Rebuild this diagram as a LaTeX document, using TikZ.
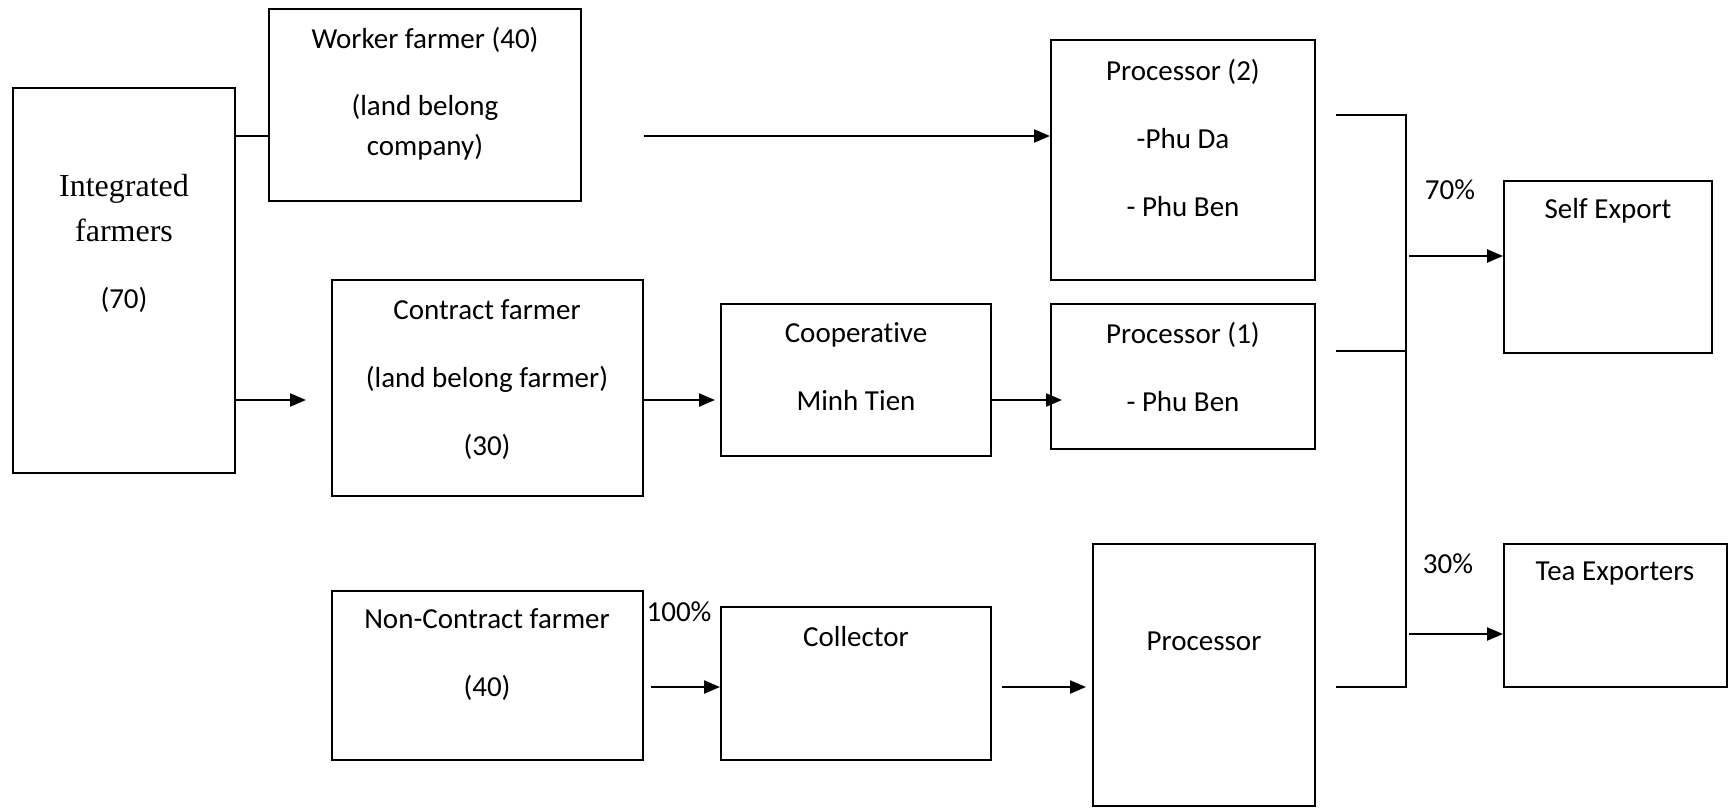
\documentclass[tikz,border=0pt]{standalone}
\usepackage{fontspec}
\setmainfont{Carlito}[RawFeature={-liga;-clig;-calt;-dlig}]
\newfontfamily\timesfont{Liberation Serif}
\usetikzlibrary{positioning,fit,arrows.meta,calc}

\begin{document}
\begin{tikzpicture}[x=0.5pt, y=-0.5pt,
  box/.style={rectangle, draw, line width=1pt, inner sep=0pt},
  txt/.style={align=center, font=\fontsize{14.5}{20}\selectfont, inner sep=0pt},
  wide/.style={align=center, font=\fontsize{14.5}{34}\selectfont, inner sep=0pt},
  arrow/.style={-{Triangle[length=8pt, width=6.5pt]}, line width=1.1pt},
  link/.style={line width=0.8pt},
]
\useasboundingbox (0,0) rectangle (1733,808);

% === Boxes ===
\node[box, fit={(13,88) (235,473)}] (intf) {};
\node[box, fit={(269,9) (581,201)}] (wkr) {};
\node[box, fit={(332,280) (643,496)}] (ctr) {};
\node[box, fit={(332,591) (643,760)}] (ncf) {};
\node[box, fit={(721,304) (991,456)}] (coop) {};
\node[box, fit={(721,607) (991,760)}] (coll) {};
\node[box, fit={(1051,40) (1315,280)}] (proc2) {};
\node[box, fit={(1051,304) (1315,449)}] (proc1) {};
\node[box, fit={(1093,544) (1315,806)}] (proc) {};
\node[box, fit={(1504,181) (1712,353)}] (self) {};
\node[box, fit={(1504,544) (1727,687)}] (tea) {};

% === Texts ===
\node[txt, font=\timesfont\fontsize{16}{22.5}\selectfont] (intftxt) at (124,208) {Integrated\\farmers};
\node[txt] (intfnum) at (124,300) {(70)};
\node[txt] (wkrtxt) at (425,40) {Worker farmer (40)};
\node[txt] (wkrland) at (425,127) {(land belong\\company)};
\node[wide] (ctrtxt) at (487,380) {Contract farmer\\(land belong farmer)\\(30)};
\node[wide] (ncftxt) at (487,655) {Non-Contract farmer\\(40)};
\node[wide] (cooptxt) at (856,367) {Cooperative\\Minh Tien};
\node[txt] (colltxt) at (856,637) {Collector};
\node[wide] (proc2txt) at (1183,138) {Processor (2)\\-Phu Da\\- Phu Ben};
\node[wide] (proc1txt) at (1183,367) {Processor (1)\\- Phu Ben};
\node[txt] (proctxt) at (1204,641) {Processor};
\node[txt] (selftxt) at (1608,211) {Self Export};
\node[txt] (teatxt) at (1615,574) {Tea Exporters};

% === Percent labels ===
\node[txt] (pcoll) at (679,612) {100\%};
\node[txt] (pself) at (1450,190) {70\%};
\node[txt] (ptea) at (1448,564) {30\%};

% === Connector levels ===
\coordinate (lvlA) at (0,136);
\coordinate (lvlB) at (0,400);
\coordinate (lvlC) at (0,687);
\coordinate (lvlD) at (0,256);
\coordinate (lvlE) at (0,634);
\coordinate (lvlM) at (0,351);
\coordinate (busT) at (1406,115);
\coordinate (busB) at (1406,687);

% === Flows ===
\draw[link, line width=1.1pt] (intf.east |- lvlA) -- (wkr.west |- lvlA);
\draw[arrow] ($(wkr.east |- lvlA)+(62,0)$) -- (proc2.west |- lvlA);
\draw[arrow] (intf.east |- lvlB) -- ($(ctr.west |- lvlB)+(-25,0)$);
\draw[arrow] (ctr.east |- lvlB) -- ($(coop.west |- lvlB)+(-5,0)$);
\draw[arrow] (coop.east |- lvlB) -- ($(proc1.west |- lvlB)+(12,0)$);
\draw[arrow] ($(ncf.east |- lvlC)+(7,0)$) -- (coll.west |- lvlC);
\draw[arrow] ($(coll.east |- lvlC)+(10,0)$) -- ($(proc.west |- lvlC)+(-6,0)$);

% === Bracket to exporters ===
\draw[link] ($(proc2.east |- busT)+(20,0)$) -- (busT) -- (busB) -- ($(proc.east |- busB)+(20,0)$);
\draw[link] ($(proc1.east |- lvlM)+(20,0)$) -- (busT |- lvlM);
\draw[arrow] ($(busT |- lvlD)+(3,0)$) -- (self.west |- lvlD);
\draw[arrow] ($(busT |- lvlE)+(3,0)$) -- (tea.west |- lvlE);

\end{tikzpicture}
\end{document}
